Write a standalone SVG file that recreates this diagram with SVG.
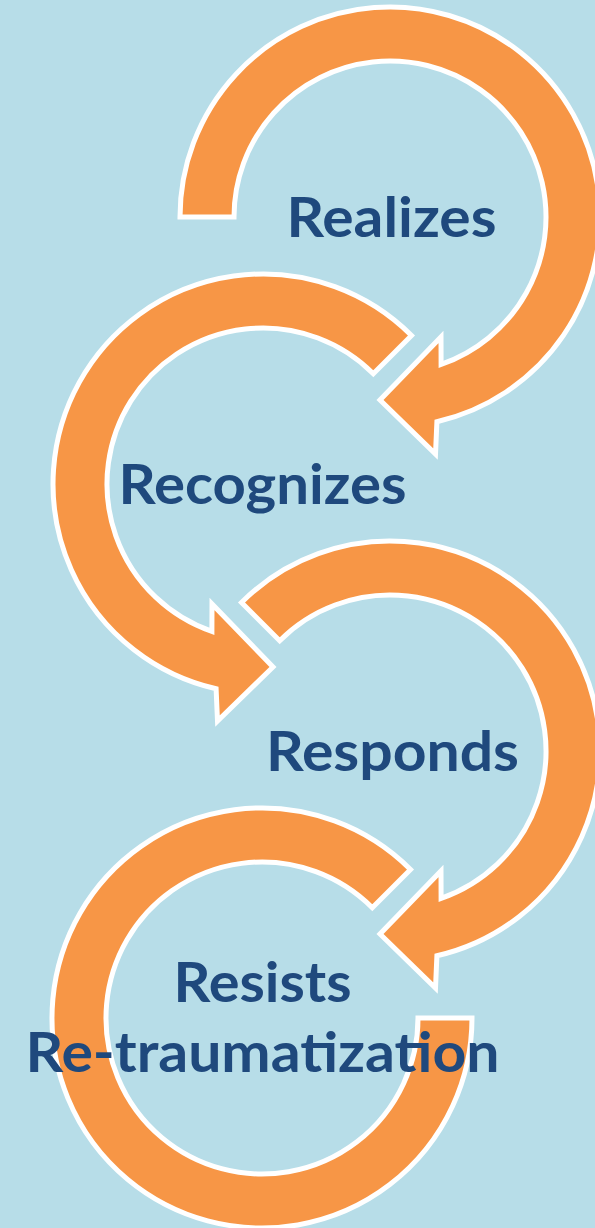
<svg xmlns="http://www.w3.org/2000/svg" width="595" height="1228" viewBox="0 0 595 1228">
<style>
.arrow{fill:#f79646;stroke:#ffffff;stroke-width:5;stroke-linejoin:miter}
.lbl{font-family:Lato,"Open Sans","Liberation Sans",sans-serif;font-weight:700;font-size:56px;fill:#1f497d;text-anchor:middle}
</style>
<rect x="0" y="0" width="595" height="1228" fill="#b7dde8"/>
<g id="connectors">
<path id="arrow1" class="arrow" transform="translate(390,217)" d="M -210 0 A 210 210 0 1 1 46.9 204.7 L 45.5 237 L -10 183 L 51 120 L 51.1 147.4 A 156 156 0 1 0 -156 0 Z"/>
<path id="arrow2" class="arrow" transform="translate(263,484)" d="M 148.5 -148.5 A 210 210 0 1 0 -46.9 204.7 L -45.5 237 L 10 183 L -51 120 L -51.1 147.4 A 156 156 0 1 1 110.3 -110.3 Z"/>
<path id="arrow3" class="arrow" transform="translate(390,751)" d="M -148.5 -148.5 A 210 210 0 1 1 46.9 204.7 L 45.5 237 L -10 183 L 51 120 L 51.1 147.4 A 156 156 0 1 0 -110.3 -110.3 Z"/>
<path id="arrow4" class="arrow" transform="translate(262,1018)" d="M 148.5 -148.5 A 210 210 0 1 0 210 0 L 156 0 A 156 156 0 1 1 110.3 -110.3 Z"/>
</g>
<g id="realizes"><text class="lbl" x="391.5" y="237" textLength="210" lengthAdjust="spacingAndGlyphs">Realizes</text></g>
<g id="recognizes"><text class="lbl" x="262.5" y="504" textLength="288" lengthAdjust="spacingAndGlyphs">Recognizes</text></g>
<g id="responds"><text class="lbl" x="392.5" y="771" textLength="253" lengthAdjust="spacingAndGlyphs">Responds</text></g>
<g id="resists">
<text class="lbl" x="262.5" y="1002" textLength="178" lengthAdjust="spacingAndGlyphs">Resists</text>
<text class="lbl" x="262.5" y="1072" textLength="474" lengthAdjust="spacingAndGlyphs">Re-traumatization</text>
</g>
</svg>
